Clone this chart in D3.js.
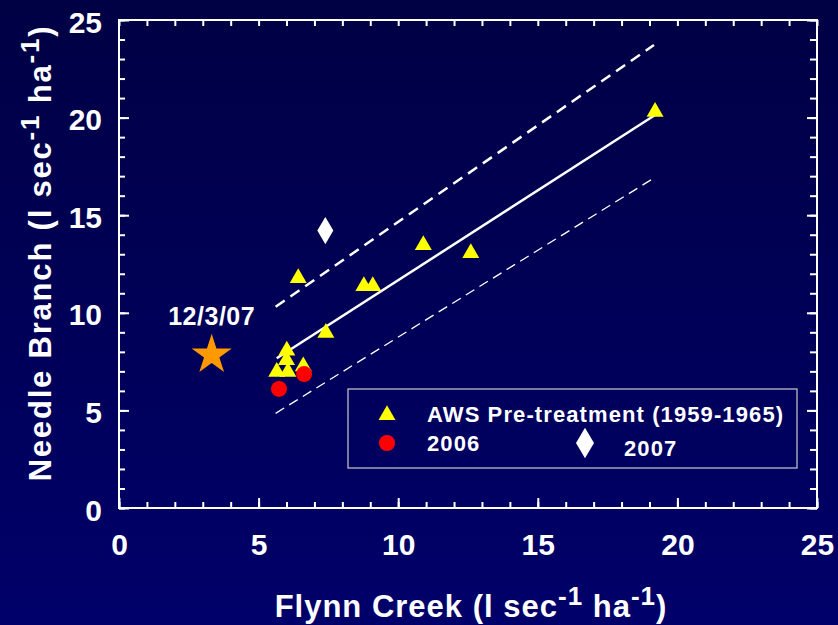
<!DOCTYPE html>
<html>
<head>
<meta charset="utf-8">
<title>Needle Branch vs Flynn Creek</title>
<script src="https://d3js.org/d3.v7.min.js"></script>
<style>
  body { margin:0; background:#000055; }
  text { font-family: "Liberation Sans", Arial, sans-serif; font-weight:bold; fill:#fff; }
</style>
</head>
<body>
<svg id="chart" width="838" height="625"></svg>
<script>
"use strict";

// pre-treatment 1959-1965 (x = Flynn Creek, y = Needle Branch)
const preX = [19.2, 12.6, 10.9, 8.77, 9.09, 6.42, 7.41, 6.01, 6.0, 5.65, 6.05, 6.6];
const preY = [20.3, 13.06, 13.47, 11.37, 11.37, 11.78, 8.97, 8.07, 7.58, 6.98, 6.98, 7.26];
const x2006 = [5.73, 6.63];
const y2006 = [6.1, 6.86];
const x2007 = [7.39];
const y2007 = [14.21];
const starX = 3.32, starY = 7.84, starLabel = "12/3/07";
// regression line and bands (end points)
const fitX = [5.65, 19.2], fitY = [7.67, 20.13];
const upX = [5.61, 19.16], upY = [10.31, 23.72];
const loX = [5.61, 19.2], loY = [4.85, 16.94];
const majorTicks = [0, 5, 10, 15, 20, 25];
const minorTicks = d3.range(0, 26);

const svg = d3.select("#chart");
const width = +svg.attr("width");
const height = +svg.attr("height");
const margin = { top:20, right:21, bottom:117, left:119 };

const defs = svg.append("defs");
const grad = defs.append("linearGradient").attr("id", "bg")
    .attr("x1", 0).attr("y1", 0).attr("x2", 0).attr("y2", 1);
grad.append("stop").attr("offset", "0%").attr("stop-color", "#000044");
grad.append("stop").attr("offset", "100%").attr("stop-color", "#00006a");
svg.append("rect").attr("width", width).attr("height", height).attr("fill", "url(#bg)");

const xScale = d3.scaleLinear().domain([0, 25]).range([margin.left, width - margin.right]);
const yScale = d3.scaleLinear().domain([0, 25]).range([height - margin.bottom, margin.top]);

// frame
svg.append("rect")
    .attr("x", xScale(0)).attr("y", yScale(25))
    .attr("width", xScale(25) - xScale(0)).attr("height", yScale(0) - yScale(25))
    .attr("fill", "none").attr("stroke", "#fff").attr("stroke-width", 2);

function tickAxis(axis, ticks, size, tx, ty, labels) {
    const g = svg.append("g").attr("transform", `translate(${tx},${ty})`)
        .call(axis.tickValues(ticks).tickSizeInner(size).tickSizeOuter(0)
            .tickFormat(labels ? d3.format("d") : ""));
    g.select(".domain").remove();
    g.selectAll("line").attr("stroke", "#fff").attr("stroke-width", 2);
    return g;
}
const yBottom = yScale(0), xLeft = xScale(0), xRight = xScale(25), yTop = yScale(25);
tickAxis(d3.axisBottom(xScale), minorTicks, -6, 0, yBottom, false);
tickAxis(d3.axisBottom(xScale), majorTicks, -10, 0, yBottom, true)
    .selectAll("text").attr("font-size", 30).attr("dy", 0).attr("y", 47);
tickAxis(d3.axisTop(xScale), minorTicks, -6, 0, yTop, false);
tickAxis(d3.axisLeft(yScale), minorTicks, -6, xLeft, 0, false);
tickAxis(d3.axisLeft(yScale), majorTicks, -10, xLeft, 0, true)
    .selectAll("text").attr("font-size", 30).attr("x", -17).attr("dy", "0.4em");
tickAxis(d3.axisRight(yScale), minorTicks, -7, xRight, 0, false);
tickAxis(d3.axisRight(yScale), majorTicks, -10, xRight, 0, false);

// axis titles
function unitTitle(sel, name, spacing) {
    sel.attr("text-anchor", "middle").attr("font-size", 31).attr("letter-spacing", spacing);
    sel.append("tspan").text(name + " (l sec");
    sel.append("tspan").text("-1").attr("font-size", 26).attr("dy", -12);
    sel.append("tspan").text(" ha").attr("dy", 12);
    sel.append("tspan").text("-1").attr("font-size", 26).attr("dy", -12);
    sel.append("tspan").text(")").attr("dy", 12);
}
unitTitle(svg.append("text").attr("x", 471).attr("y", 617), "Flynn Creek", 1);
unitTitle(svg.append("text").attr("transform", "translate(51,253) rotate(-90)"), "Needle Branch", 1.8);

// lines
const line = d3.line().x(d => xScale(d[0])).y(d => yScale(d[1]));
svg.append("path").attr("d", line(d3.zip(fitX, fitY)))
    .attr("stroke", "#fff").attr("stroke-width", 2.5).attr("fill", "none");
svg.append("path").attr("d", line(d3.zip(upX, upY)))
    .attr("stroke", "#fff").attr("stroke-width", 2.5).attr("fill", "none")
    .attr("stroke-dasharray", "11,7");
svg.append("path").attr("d", line(d3.zip(loX, loY)))
    .attr("stroke", "#fff").attr("stroke-width", 1.3).attr("fill", "none")
    .attr("stroke-dasharray", "10,6");

// points
const tri = d3.symbol().type(d3.symbolTriangle).size(125);
const diamond = s => `M0,${-s * 1.7}L${s},0L0,${s * 1.7}L${-s},0Z`;

svg.append("g").selectAll("path").data(d3.zip(preX, preY)).join("path")
    .attr("d", tri).attr("fill", "#ffff00")
    .attr("transform", d => `translate(${xScale(d[0])},${yScale(d[1])})`);
svg.append("g").selectAll("circle").data(d3.zip(x2006, y2006)).join("circle")
    .attr("cx", d => xScale(d[0])).attr("cy", d => yScale(d[1])).attr("r", 8)
    .attr("fill", "#ff0000");
svg.append("g").selectAll("path").data(d3.zip(x2007, y2007)).join("path")
    .attr("d", diamond(8)).attr("fill", "#fff")
    .attr("transform", d => `translate(${xScale(d[0])},${yScale(d[1])})`);

const star = d3.symbol().type(d3.symbolStar).size(500);
svg.append("path").attr("d", star).attr("fill", "#ff9900")
    .attr("transform", `translate(${xScale(starX)},${yScale(starY)})`);
svg.append("text").attr("x", xScale(starX)).attr("y", yScale(starY) - 30)
    .attr("text-anchor", "middle").attr("font-size", 25).attr("letter-spacing", 0.5)
    .text(starLabel);

// legend
const lg = svg.append("g");
lg.append("rect").attr("x", 348).attr("y", 389).attr("width", 449).attr("height", 79)
    .attr("fill", "none").attr("stroke", "#ccc").attr("stroke-width", 1.2);
lg.append("path").attr("d", tri).attr("fill", "#ffff00").attr("transform", "translate(387,415)");
lg.append("circle").attr("cx", 387).attr("cy", 443).attr("r", 8).attr("fill", "#ff0000");
lg.append("path").attr("d", diamond(9)).attr("fill", "#fff").attr("transform", "translate(585,443)");
lg.selectAll("text")
    .data([["AWS Pre-treatment (1959-1965)", 427, 422], ["2006", 427, 451], ["2007", 624, 456]])
    .join("text")
    .attr("x", d => d[1]).attr("y", d => d[2])
    .attr("font-size", 22).attr("letter-spacing", 1.1)
    .text(d => d[0]);
</script>
</body>
</html>
